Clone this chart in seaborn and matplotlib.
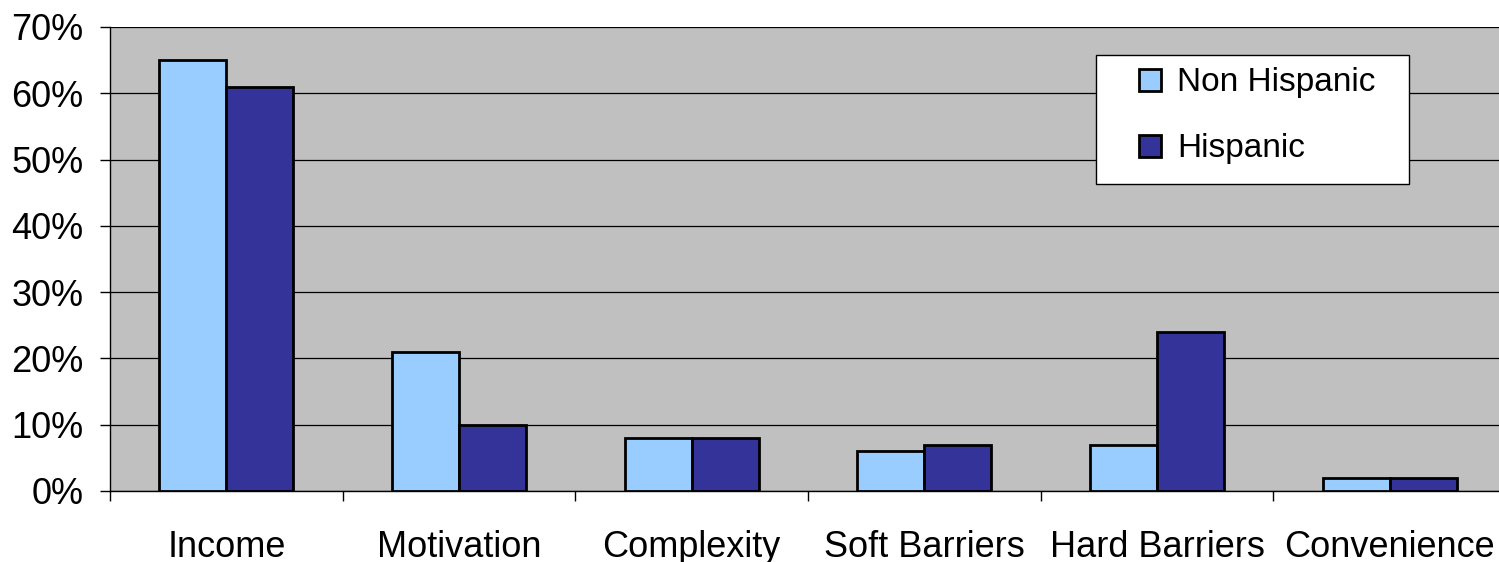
import pandas as pd
import numpy as np
import matplotlib
matplotlib.use("Agg")
import matplotlib.pyplot as plt
from matplotlib.ticker import PercentFormatter, FixedLocator
from matplotlib.patches import Rectangle
import seaborn as sns

categories = ["Income", "Motivation", "Complexity", "Soft Barriers", "Hard Barriers", "Convenience"]
non_hispanic = [65, 21, 8, 6, 7, 2]
hispanic = [61, 10, 8, 7, 24, 2]
groups = ["Non Hispanic", "Hispanic"]

df = pd.DataFrame({
    "category": categories * 2,
    "group": [groups[0]] * len(categories) + [groups[1]] * len(categories),
    "value": non_hispanic + hispanic,
})

sns.set_style("white")
plt.rcParams["font.family"] = ["Liberation Sans", "DejaVu Sans"]
plt.rcParams["text.color"] = "black"
plt.rcParams["xtick.color"] = "black"
plt.rcParams["ytick.color"] = "black"

fig = plt.figure(figsize=(14.99, 5.62), dpi=100)
ax = fig.add_axes([110 / 1499, 71 / 562, 1396 / 1499, 464 / 562])
ax.set_facecolor("#C0C0C0")

sns.barplot(data=df, x="category", y="value", hue="group", order=categories,
            hue_order=groups, palette=["#99CCFF", "#333399"], saturation=1,
            width=0.575, edgecolor="black", linewidth=2, ax=ax, zorder=3)

ax.set_ylim(0, 70)
ax.set_xlim(-0.5, len(categories) - 0.5)
ax.yaxis.set_major_locator(FixedLocator(np.arange(0, 71, 10)))
ax.yaxis.set_major_formatter(PercentFormatter(decimals=0))
ax.grid(axis="y", color="black", linewidth=0.9, zorder=1)
ax.set_axisbelow(True)

ax.set_xlabel("")
ax.set_ylabel("")
for s in ["top", "right"]:
    ax.spines[s].set_visible(False)
ax.spines["left"].set_color("black")
ax.spines["left"].set_linewidth(1)
ax.spines["bottom"].set_color("black")
ax.spines["bottom"].set_linewidth(1)

ax.tick_params(axis="y", length=7, width=1, labelsize=26, pad=12, left=True)
ax.tick_params(axis="x", which="major", length=0, labelsize=26, pad=28)
ax.xaxis.set_minor_locator(FixedLocator(np.arange(-0.5, len(categories), 1)))
ax.tick_params(axis="x", which="minor", length=7, width=1, bottom=True)


def ax_x(px):
    return (px - 110) / 1396


def ax_y(py):
    return (491 - py) / 464


# legend box drawn separately: wide horizontal padding, tight vertical
box = Rectangle((ax_x(1096), ax_y(184)), ax_x(1409) - ax_x(1096), ax_y(55) - ax_y(184),
                transform=ax.transAxes, facecolor="white", edgecolor="black",
                linewidth=1, zorder=5)
ax.add_patch(box)

leg = ax.legend(loc="center left", bbox_to_anchor=(ax_x(1139), ax_y(116)),
                fontsize=24, frameon=False, handlelength=0.65, handleheight=0.65,
                handletextpad=0.5, borderpad=0, labelspacing=1.05, borderaxespad=0)
leg.set_zorder(6)

fig.savefig("out.png", dpi=100)
